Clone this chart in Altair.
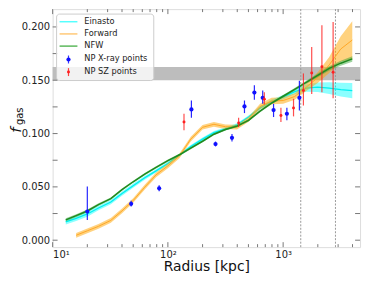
import altair as alt
import pandas as pd

# ---------------- data ----------------
radius = [13, 16, 20, 25, 32, 40, 50, 63, 79, 100, 126, 158, 200, 251, 316,
          398, 501, 631, 794, 1000, 1259, 1585, 1995, 2512, 3162, 3981]
einasto = [0.0172, 0.0204, 0.0246, 0.0302, 0.0358, 0.0437, 0.0511, 0.0585, 0.0650,
           0.0720, 0.0799, 0.0878, 0.0948, 0.1008, 0.1045, 0.1082, 0.1155, 0.1240,
           0.1301, 0.1342, 0.1394, 0.1426, 0.1435, 0.1426, 0.1412, 0.1403]
einasto_err = [0.0025, 0.0025, 0.0025, 0.0022, 0.002, 0.002, 0.002, 0.0018, 0.0016,
               0.0015, 0.0015, 0.0015, 0.0015, 0.0015, 0.0015, 0.0015, 0.0015, 0.0015,
               0.0018, 0.002, 0.0025, 0.0035, 0.0045, 0.0055, 0.0065, 0.0072]
nfw = [0.0190, 0.0230, 0.0274, 0.0334, 0.0390, 0.0474, 0.0548, 0.0619, 0.0683,
       0.0746, 0.0801, 0.0863, 0.0928, 0.0994, 0.1038, 0.1070, 0.1124, 0.1211,
       0.1285, 0.1350, 0.1414, 0.1480, 0.1546, 0.1611, 0.1660, 0.1700]
nfw_err = [0.0015, 0.0014, 0.0013, 0.0012, 0.0011, 0.001, 0.001, 0.001, 0.001,
           0.001, 0.001, 0.001, 0.001, 0.001, 0.001, 0.001, 0.001, 0.001,
           0.001, 0.0011, 0.0013, 0.0015, 0.0018, 0.002, 0.0023, 0.0026]
forward_r = [16, 20, 25, 32, 40, 50, 63, 79, 100, 126, 158, 200, 251, 316,
             398, 501, 631, 794, 1000, 1259, 1585, 1995, 2512, 3162, 3981]
forward = [0.0046, 0.0088, 0.0130, 0.0186, 0.0275, 0.0372, 0.0497, 0.0613, 0.0697,
           0.0790, 0.0948, 0.1059, 0.1087, 0.1064, 0.1060, 0.1133, 0.1254, 0.1305,
           0.1310, 0.1347, 0.1435, 0.1524, 0.1644, 0.1793, 0.1877]
forward_err = [0.0022, 0.0022, 0.0022, 0.0022, 0.0022, 0.0022, 0.0022, 0.0022, 0.0022,
               0.0022, 0.0022, 0.0022, 0.0022, 0.0022, 0.0022, 0.0022, 0.0025, 0.003,
               0.003, 0.003, 0.0035, 0.005, 0.0075, 0.012, 0.0177]

xray_r = [20, 48, 84, 160, 259, 360, 462, 563, 665, 826, 1078, 1384]
xray_f = [0.0269, 0.0341, 0.0486, 0.1226, 0.0901, 0.0960, 0.1254, 0.1384, 0.1335, 0.1220, 0.1186, 0.1335]
xray_lo = [0.0189, 0.0315, 0.0460, 0.1149, 0.0880, 0.0925, 0.1192, 0.1316, 0.1279, 0.1155, 0.1124, 0.1217]
xray_hi = [0.0504, 0.0370, 0.0515, 0.1310, 0.0925, 0.0995, 0.1310, 0.1452, 0.1403, 0.1279, 0.1242, 0.1496]

sz_r = [138, 411, 687, 957, 1231, 1500, 1770, 2170, 2715]
sz_f = [0.1108, 0.1100, 0.1322, 0.1170, 0.1240, 0.1403, 0.1567, 0.1626, 0.1576]
sz_lo = [0.1031, 0.1062, 0.1273, 0.1108, 0.1161, 0.1263, 0.1372, 0.1387, 0.1331]
sz_hi = [0.1186, 0.1149, 0.1387, 0.1242, 0.1326, 0.1564, 0.1812, 0.2016, 0.2047]

band_lo = [0.150]
band_hi = [0.1625]
vlines_r = [1422, 2845]

y_major = [0.0, 0.025, 0.05, 0.075, 0.1, 0.125, 0.15, 0.175, 0.2]
x_major = [10, 100, 1000]
x_minor = [20, 30, 40, 50, 60, 70, 80, 90, 200, 300, 400, 500, 600, 700, 800, 900,
           2000, 3000, 4000]

legend_labels = ["Einasto", "Forward", "NFW", "NP X-ray points", "NP SZ points"]

# ---------------- chart ----------------
W, H = 310, 240
FONT = "DejaVu Sans"
xs = alt.Scale(type="log", domain=[10, 4650], nice=False)
ys = alt.Scale(domain=[-0.0065, 0.2167], nice=False, zero=False)

def curve_df(r, f, e):
    return pd.DataFrame({"r": r, "f": f,
                         "lo": [a - b for a, b in zip(f, e)],
                         "hi": [a + b for a, b in zip(f, e)]})

ein_df = curve_df(radius, einasto, einasto_err)
nfw_df = curve_df(radius, nfw, nfw_err)
fwd_df = curve_df(forward_r, forward, forward_err)
xray_df = pd.DataFrame({"r": xray_r, "f": xray_f, "lo": xray_lo, "hi": xray_hi})
sz_df = pd.DataFrame({"r": sz_r, "f": sz_f, "lo": sz_lo, "hi": sz_hi})

xaxis = alt.Axis(values=x_major, ticks=False, tickSize=0, domain=False, grid=False,
                 labelExpr="datum.value == 10 ? '10¹' : datum.value == 100 ? '10²' : '10³'",
                 labelFontSize=10, labelPadding=2, labelFont=FONT, labelColor="#222",
                 title="Radius [kpc]", titleFontSize=14, titleFont=FONT,
                 titleFontWeight="normal", titleColor="#111", titlePadding=1)
yaxis = alt.Axis(values=y_major, format=".3f", ticks=False, tickSize=0, domain=False,
                 grid=False, labelFontSize=10, labelPadding=3, labelFont=FONT,
                 labelColor="#222", title=None)

gray = alt.Chart(pd.DataFrame({"lo": band_lo, "hi": band_hi})).mark_rect(
    color="#bdbdbd").encode(
    x=alt.value(0), x2=alt.value(W),
    y=alt.Y("lo:Q", scale=ys, axis=yaxis), y2="hi:Q")

base_x = alt.X("r:Q", scale=xs, axis=xaxis)

vl = alt.Chart(pd.DataFrame({"r": vlines_r})).mark_rule(
    color="#999", strokeDash=[2, 1.5], strokeWidth=1).encode(x=alt.X("r:Q", scale=xs))

def model(df, line_col, band_col, band_op, lw):
    band = alt.Chart(df).mark_area(color=band_col, opacity=band_op).encode(
        x=alt.X("r:Q", scale=xs), y=alt.Y("lo:Q", scale=ys), y2="hi:Q")
    line = alt.Chart(df).mark_line(color=line_col, strokeWidth=lw).encode(
        x=alt.X("r:Q", scale=xs), y=alt.Y("f:Q", scale=ys))
    return band + line

ein = model(ein_df, "#00f0f0", "#00ffff", 0.45, 1.3)
fwd = model(fwd_df, "#ffa726", "#ffa500", 0.5, 1.0)
nfwc = model(nfw_df, "#1f8a1f", "#2ca02c", 0.45, 1.5)

def points(df, col, size, op):
    eb = alt.Chart(df).mark_rule(stroke=col, strokeWidth=1.2, strokeOpacity=op).encode(
        x=alt.X("r:Q", scale=xs), y=alt.Y("lo:Q", scale=ys), y2="hi:Q")
    pt = alt.Chart(df).mark_circle(color=col, size=size, opacity=1).encode(
        x=alt.X("r:Q", scale=xs), y=alt.Y("f:Q", scale=ys))
    return eb + pt

xr = points(xray_df, "#1010ff", 18, 0.9)
szp = points(sz_df, "#ff2020", 9, 0.8)

# inward ticks on all four sides
TC = "#777"
ymaj = pd.DataFrame({"v": y_major})
xmaj = pd.DataFrame({"v": x_major})
xmin_ = pd.DataFrame({"v": x_minor})
ticks = (
    alt.Chart(ymaj).mark_rule(color=TC).encode(y=alt.Y("v:Q", scale=ys), x=alt.value(0), x2=alt.value(5))
    + alt.Chart(ymaj).mark_rule(color=TC).encode(y=alt.Y("v:Q", scale=ys), x=alt.value(W - 5), x2=alt.value(W))
    + alt.Chart(xmaj).mark_rule(color=TC).encode(x=alt.X("v:Q", scale=xs), y=alt.value(H), y2=alt.value(H - 5))
    + alt.Chart(xmaj).mark_rule(color=TC).encode(x=alt.X("v:Q", scale=xs), y=alt.value(0), y2=alt.value(5))
    + alt.Chart(xmin_).mark_rule(color=TC).encode(x=alt.X("v:Q", scale=xs), y=alt.value(H), y2=alt.value(H - 3))
    + alt.Chart(xmin_).mark_rule(color=TC).encode(x=alt.X("v:Q", scale=xs), y=alt.value(0), y2=alt.value(3))
)

# legend (drawn manually)
one = pd.DataFrame({"a": [0]})
leg_box = alt.Chart(one).mark_rect(fill="white", fillOpacity=0.8, stroke="#cccccc",
                                   strokeWidth=1, cornerRadius=3).encode(
    x=alt.value(4), x2=alt.value(102), y=alt.value(5), y2=alt.value(72))
rows_y = [12.7, 25.0, 37.3, 50.8, 63.5]
line_cols = ["#55ffff", "#ffc978", "#5cb85c"]
leg = leg_box
for i in range(3):
    leg = leg + alt.Chart(one).mark_rule(color=line_cols[i], strokeWidth=1.5).encode(
        x=alt.value(7), x2=alt.value(25), y=alt.value(rows_y[i]))
for i, col, sz in [(3, "#1010ff", 18), (4, "#ff2020", 9)]:
    leg = leg + alt.Chart(one).mark_rule(stroke=col, strokeWidth=1.2, strokeOpacity=0.85).encode(
        x=alt.value(16), y=alt.value(rows_y[i] - 4), y2=alt.value(rows_y[i] + 4))
    leg = leg + alt.Chart(one).mark_circle(color=col, size=sz, opacity=1).encode(
        x=alt.value(16), y=alt.value(rows_y[i]))
for i, lab in enumerate(legend_labels):
    leg = leg + alt.Chart(one).mark_text(align="left", baseline="middle", font=FONT,
                                         fontSize=8.3, color="#222").encode(
        x=alt.value(32), y=alt.value(rows_y[i]), text=alt.value(lab))

# y title: italic f with subscript "gas"
ytitle = (
    alt.Chart(one).mark_text(angle=270, font=FONT, fontSize=15, fontStyle="italic",
                             color="#111", align="center", baseline="middle").encode(
        x=alt.value(-37), y=alt.value(122), text=alt.value("f"))
    + alt.Chart(one).mark_text(angle=270, font=FONT, fontSize=10, color="#111",
                               align="center", baseline="middle").encode(
        x=alt.value(-33), y=alt.value(108), text=alt.value("gas"))
)

xanchor = alt.Chart(pd.DataFrame({"r": vlines_r})).mark_point(opacity=0).encode(x=base_x)

chart = alt.layer(
    gray, xanchor, vl, ein, fwd, nfwc, xr, szp, ticks, leg, ytitle
).properties(
    width=W, height=H,
    autosize=alt.AutoSizeParams(type="none"),
    padding={"left": 45, "top": 0, "right": 6, "bottom": 30},
).configure_view(stroke="#777", strokeWidth=1).configure(background="white")

chart.save("out.html", embed_options={"renderer": "svg", "actions": False})
